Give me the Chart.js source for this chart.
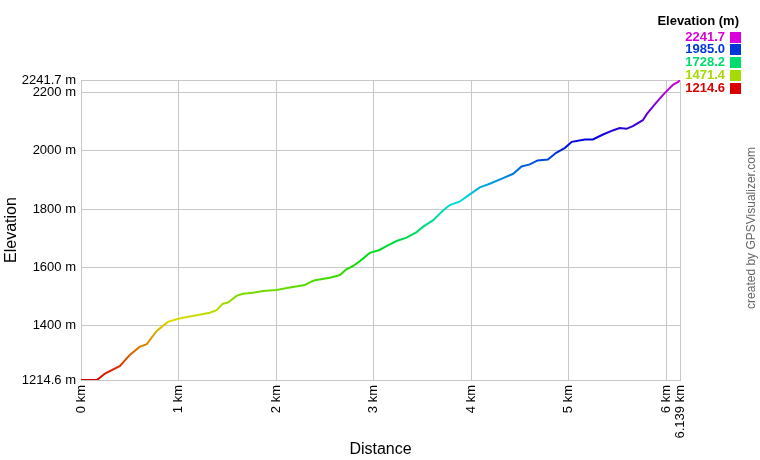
<!DOCTYPE html>
<html>
<head>
<meta charset="utf-8">
<script src="https://cdn.jsdelivr.net/npm/chart.js@4.4.1/dist/chart.umd.min.js"></script>
<style>
  body { margin: 0; background: #fff; }
  #wrap { width: 760px; height: 460px; }
</style>
</head>
<body>
<div id="wrap"><canvas id="myChart" width="760" height="460"></canvas></div>
<script>
// track profile (km, m)
var distKm = [0, 0.143, 0.164, 0.246, 0.40, 0.50, 0.60, 0.673, 0.724, 0.776, 0.84, 0.89, 0.98,
  1.045, 1.185, 1.32, 1.39, 1.455, 1.506, 1.595, 1.66, 1.762, 1.865, 2.005, 2.14, 2.295, 2.37,
  2.40, 2.55, 2.654, 2.72, 2.79, 2.86, 2.91, 2.96, 3.06, 3.13, 3.235, 3.337, 3.44, 3.50, 3.61,
  3.71, 3.78, 3.88, 3.985, 4.088, 4.19, 4.32, 4.43, 4.515, 4.60, 4.68, 4.785, 4.87, 4.96, 5.03,
  5.164, 5.246, 5.35, 5.45, 5.52, 5.59, 5.656, 5.758, 5.80, 5.90, 5.984, 6.07, 6.12, 6.139];
var elevM = [1214.6, 1215, 1214.6, 1236.8, 1263, 1300.7, 1328, 1337, 1360, 1382.8, 1400, 1413.6, 1422.8,
  1428, 1436.5, 1445, 1453.6, 1476, 1479.6, 1502.5, 1510, 1513.7, 1519.6, 1523, 1531, 1540, 1553,
  1556, 1565, 1574, 1593.7, 1605, 1622, 1635.8, 1650, 1659.7, 1673, 1690.5, 1701.8, 1721, 1738, 1762,
  1795, 1813.6, 1825, 1850, 1874, 1886.4, 1904.8, 1920.6, 1945.8, 1952.7, 1966.4, 1969.8, 1992.4, 2009.5, 2030,
  2038, 2038, 2055, 2069, 2077, 2074.6, 2083.6, 2104, 2125.7, 2165.7, 2197.5, 2226, 2235, 2241.7];

var xTicks = [0, 1, 2, 3, 4, 5, 6, 6.139];
var yTicks = [1214.6, 1400, 1600, 1800, 2000, 2200, 2241.7];
var legendValues = [2241.7, 1985.0, 1728.2, 1471.4, 1214.6];

var minE = 1214.6;
var maxE = 2241.7;

function hueFor(v) {
    return 300 * (v - minE) / (maxE - minE);
}
function colorFor(v) {
    return 'hsl(' + hueFor(v) + ',100%,43%)';
}

var points = [];
for (let i = 0; i < distKm.length; i++) {
    points.push({x: distKm[i], y: elevM[i]});
}

function lineColor(context) {
    const chart = context.chart;
    if (!chart.chartArea) return colorFor(minE);
    const y = chart.scales.y;
    const g = chart.ctx.createLinearGradient(0, y.getPixelForValue(minE), 0, y.getPixelForValue(maxE));
    for (let k = 0; k <= 10; k++) {
        g.addColorStop(k / 10, 'hsl(' + (30 * k) + ',100%,43%)');
    }
    return g;
}

const sideText = {
    id: 'sideText',
    afterDraw(chart) {
        const ctx = chart.ctx;
        ctx.save();
        ctx.font = 'bold 13px "Liberation Sans", Arial, sans-serif';
        ctx.textAlign = 'right';
        ctx.textBaseline = 'middle';
        ctx.fillStyle = '#000';
        ctx.fillText('Elevation (m)', 739, 21);
        for (let i = 0; i < legendValues.length; i++) {
            const cy = 36.5 + i * 12.9;
            ctx.fillStyle = colorFor(legendValues[i]);
            ctx.fillText(legendValues[i].toFixed(1), 725, cy + 0.5);
            ctx.fillRect(730, Math.round(cy - 5), 11, 11);
        }
        ctx.font = '12px "Liberation Sans", Arial, sans-serif';
        ctx.fillStyle = '#666';
        ctx.textAlign = 'center';
        ctx.translate(752, 228);
        ctx.rotate(-Math.PI / 2);
        ctx.fillText('created by GPSVisualizer.com', 0, 0);
        ctx.restore();
    }
};

const tickFont = {family: '"Liberation Sans", Arial, sans-serif', size: 13};

const ctx = document.getElementById('myChart').getContext('2d');
const myChart = new Chart(ctx, {
    type: 'line',
    data: {
        datasets: [{
            data: points,
            borderColor: lineColor,
            borderWidth: 2,
            pointRadius: 0,
            tension: 0,
            fill: false
        }]
    },
    options: {
        responsive: false,
        animation: false,
        events: [],
        layout: {padding: {left: 0, right: 80, top: 80, bottom: 0}},
        plugins: {legend: {display: false}, tooltip: {enabled: false}},
        scales: {
            x: {
                type: 'linear',
                min: 0,
                max: 6.139,
                afterBuildTicks: (scale) => { scale.ticks = xTicks.map(v => ({value: v})); },
                afterFit: (scale) => { scale.height = 80; },
                grid: {color: '#c8c8c8', drawTicks: false},
                border: {color: '#c8c8c8'},
                ticks: {
                    autoSkip: false,
                    minRotation: 90,
                    maxRotation: 90,
                    padding: 5,
                    color: '#000',
                    font: tickFont,
                    callback: (v) => v + ' km'
                },
                title: {display: true, text: 'Distance', color: '#000',
                    font: {family: '"Liberation Sans", Arial, sans-serif', size: 16},
                    padding: {top: 0, bottom: 1}}
            },
            y: {
                type: 'linear',
                min: minE,
                max: maxE,
                afterBuildTicks: (scale) => { scale.ticks = yTicks.map(v => ({value: v})); },
                afterFit: (scale) => { scale.width = 81; },
                grid: {color: '#c8c8c8', drawTicks: false},
                border: {color: '#c8c8c8'},
                ticks: {
                    autoSkip: false,
                    padding: 5,
                    color: '#000',
                    font: tickFont,
                    callback: (v) => (Number.isInteger(v) ? v : v.toFixed(1)) + ' m'
                },
                title: {display: true, text: 'Elevation', color: '#000',
                    font: {family: '"Liberation Sans", Arial, sans-serif', size: 16},
                    padding: {top: 2, bottom: 0}}
            }
        }
    },
    plugins: [sideText]
});
</script>
</body>
</html>
